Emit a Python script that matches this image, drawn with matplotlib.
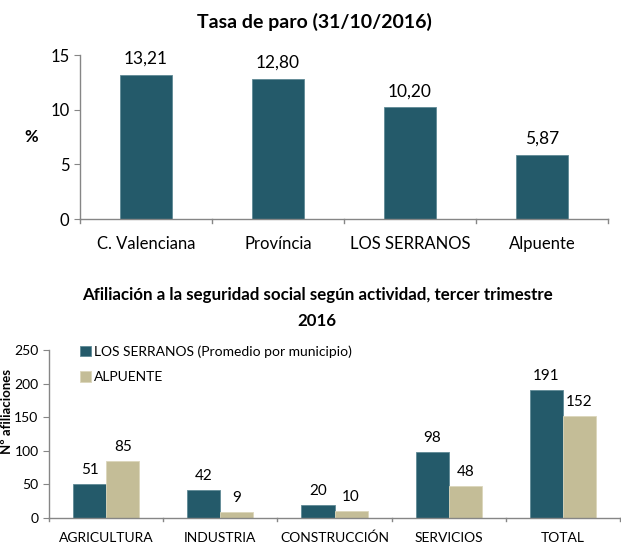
import matplotlib.pyplot as plt
import numpy as np

plt.rcParams['font.family'] = ['Lato', 'DejaVu Sans']

# Data
paro_labels = ['C. Valenciana', 'Província', 'LOS SERRANOS', 'Alpuente']
paro_values = [13.21, 12.80, 10.20, 5.87]

sectores = ['AGRICULTURA', 'INDUSTRIA', 'CONSTRUCCIÓN', 'SERVICIOS', 'TOTAL']
serranos = [51, 42, 20, 98, 191]
alpuente = [85, 9, 10, 48, 152]

dark = '#245A6A'
light = '#C4BD97'
axis_gray = '#868686'

W, H = 621, 544
fig = plt.figure(figsize=(W / 100, H / 100), dpi=100)


def px_axes(left, right, top, bottom):
    return fig.add_axes([left / W, 1 - bottom / H, (right - left) / W, (bottom - top) / H])


def style_axes(ax):
    for s in ['top', 'right']:
        ax.spines[s].set_visible(False)
    for s in ['left', 'bottom']:
        ax.spines[s].set_color(axis_gray)
        ax.spines[s].set_linewidth(1)
    ax.tick_params(axis='y', direction='out', length=4, color=axis_gray)
    ax.tick_params(axis='x', length=0)


# Top chart: Tasa de paro
ax1 = px_axes(80, 608, 55, 219)
x1 = np.arange(len(paro_labels))
ax1.bar(x1, paro_values, width=0.40, color=dark, edgecolor='#5f8a96', linewidth=0.6)
ax1.set_xlim(-0.5, len(paro_labels) - 0.5)
ax1.set_ylim(0, 15)
ax1.set_yticks([0, 5, 10, 15])
ax1.set_xticks(x1)
ax1.set_xticklabels(paro_labels, fontsize=12)
ax1.tick_params(axis='y', labelsize=12)
ax1.tick_params(axis='x', pad=12)
style_axes(ax1)
# small category separators on x-axis
for b in np.arange(-0.5, len(paro_labels), 1.0):
    ax1.plot([b, b], [0, -0.35], color=axis_gray, lw=1, clip_on=False)
for xi, v in zip(x1, paro_values):
    ax1.annotate(f'{v:.2f}'.replace('.', ','), (xi, v), xytext=(0, 6),
                 textcoords='offset points', ha='center', va='bottom', fontsize=12.5)
ax1.set_ylabel('%', fontsize=12, fontweight='bold', rotation=0, labelpad=14, va='center')
fig.text(314 / W, 1 - 22 / H, 'Tasa de paro (31/10/2016)', ha='center', va='center',
         fontsize=14, fontweight='bold')

# Bottom chart: Afiliación
ax2 = px_axes(49, 620, 350, 518)
x2 = np.arange(len(sectores))
bw = 0.29
ax2.bar(x2 - bw / 2, serranos, width=bw, color=dark, edgecolor='#5f8a96', linewidth=0.6,
        label='LOS SERRANOS (Promedio por municipio)')
ax2.bar(x2 + bw / 2, alpuente, width=bw, color=light, edgecolor='#dcd6bb', linewidth=0.6,
        label='ALPUENTE')
ax2.set_xlim(-0.5, len(sectores) - 0.5)
ax2.set_ylim(0, 250)
ax2.set_yticks([0, 50, 100, 150, 200, 250])
ax2.set_xticks(x2)
ax2.set_xticklabels(sectores, fontsize=10)
ax2.tick_params(axis='y', labelsize=10)
ax2.tick_params(axis='x', pad=10)
style_axes(ax2)
for b in np.arange(-0.5, len(sectores), 1.0):
    ax2.plot([b, b], [0, -5], color=axis_gray, lw=1, clip_on=False)
for xi, v in zip(x2, serranos):
    ax2.annotate(str(v), (xi - bw / 2, v), xytext=(0, 5), textcoords='offset points',
                 ha='center', va='bottom', fontsize=11)
for xi, v in zip(x2, alpuente):
    ax2.annotate(str(v), (xi + bw / 2, v), xytext=(0, 5), textcoords='offset points',
                 ha='center', va='bottom', fontsize=11)
ax2.legend(loc='upper left', bbox_to_anchor=(0.055, 1.03), frameon=False, fontsize=10,
           handlelength=0.75, handleheight=0.75, handletextpad=0.2, labelspacing=1.0,
           borderpad=0, borderaxespad=0)
fig.text(7 / W, 1 - 412 / H, 'Nº afiliaciones', rotation=90, ha='center', va='center',
         fontsize=9.5, fontweight='bold')
fig.text(317 / W, 1 - 295 / H, 'Afiliación a la seguridad social según actividad, tercer trimestre',
         ha='center', va='center', fontsize=12.2, fontweight='bold')
fig.text(317 / W, 1 - 321 / H, '2016', ha='center', va='center', fontsize=12.2, fontweight='bold')

fig.savefig('out.png', dpi=100)
